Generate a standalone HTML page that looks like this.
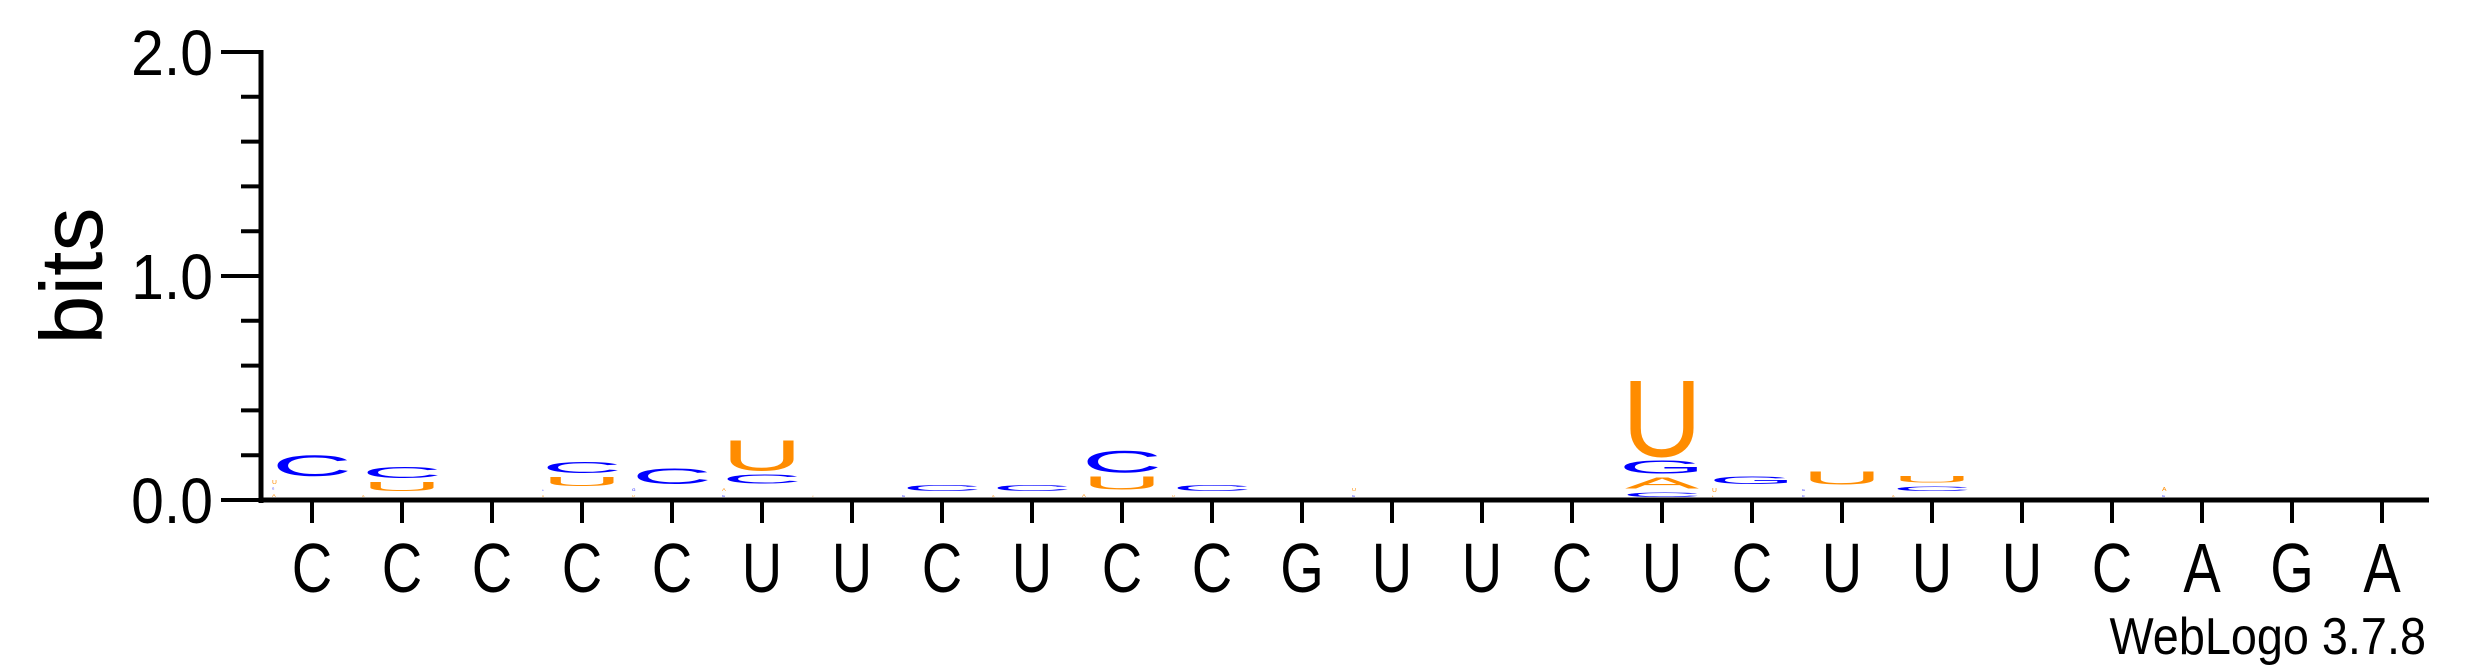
<!DOCTYPE html>
<html><head><meta charset="utf-8"><style>
html,body{margin:0;padding:0;background:#fff;}
svg{display:block;font-family:"Liberation Sans",Arial,sans-serif;}
</style></head><body>
<svg id="logo" width="2475" height="667" viewBox="0 0 2475 667" xmlns="http://www.w3.org/2000/svg">
<g id="axes"></g>
<g id="stacks"></g>
<text transform="translate(102,276) rotate(-90)" text-anchor="middle" font-size="88">bits</text>
<text x="2426" y="654" text-anchor="end" font-size="52" transform="translate(2426,0) scale(0.9,1) translate(-2426,0)">WebLogo 3.7.8</text>
</svg>
<script>
// Data
const positions = ["C","C","C","C","C","U","U","C","U","C","C","G","U","U","C","U","C","U","U","U","C","A","G","A"];
// each stack: letters bottom-to-top with heights in bits
const stackLetters = [
 ["A","G","U","C"],["A","U","C"],[],["A","G","U","C"],["U","G","C"],["G","A","C","U"],["U"],["G","C"],["A","C"],["A","U","C"],["U","C"],[],
 ["G","U"],[],[],["C","A","G","U"],["A","U","G"],["C","G","U"],["A","C","U"],[],[],["G","A"],[],[]
];
const stackHeights = [
 [0.015,0.008,0.018,0.094],[0.01,0.04,0.05],[],[0.008,0.005,0.04,0.05],[0.01,0.012,0.07],[0.01,0.015,0.04,0.14],[0.005],[0.01,0.025],[0.01,0.025],[0.015,0.058,0.10],[0.01,0.025],[],
 [0.01,0.015],[],[],[0.02,0.05,0.058,0.35],[0.005,0.018,0.035],[0.01,0.01,0.058],[0.01,0.02,0.028],[],[],[0.01,0.018],[],[]
];
const yTicks = [0,1,2];
const yTickLabels = ["0.0","1.0","2.0"];
const colors = {A:"#ff8c00",U:"#ff8c00",C:"#0000ff",G:"#0000ff"};

const NS="http://www.w3.org/2000/svg";
const x0=312, dx=90, yBase=500, pxPerBit=224, axisX=261, gap=4;
const xPos = i => x0 + i*dx;
const yPos = b => yBase - b*pxPerBit;
const axes=document.getElementById('axes');
const stacks=document.getElementById('stacks');
function mk(tag,attrs,parent){const e=document.createElementNS(NS,tag);for(const k in attrs)e.setAttribute(k,attrs[k]);parent.appendChild(e);return e;}

let yl=mk('line',{x1:axisX,y1:yPos(2)-2,x2:axisX,y2:yBase+3,stroke:'#000','stroke-width':5},axes);


let xl=mk('line',{x1:axisX-2,y1:yBase,x2:xPos(positions.length-1)+47,y2:yBase,stroke:'#000','stroke-width':5},axes);


for(let k=0;k<=10;k++){
  const b=k*0.2;
  const major=(k%5===0);
  const t=mk('line',{x1:major?221:241,y1:yPos(b),x2:axisX,y2:yPos(b),stroke:'#000','stroke-width':4},axes);
  
  
}
yTicks.forEach((v,i)=>{
  const t=mk('text',{x:213,y:yPos(v)+23,'text-anchor':'end','font-size':64},axes);
  t.setAttribute('transform',`translate(213,0) scale(0.92,1) translate(-213,0)`);
  t.textContent=yTickLabels[i];
  
  
});
positions.forEach((p,i)=>{
  const x=xPos(i);
  const t=mk('line',{x1:x,y1:yBase,x2:x,y2:523,stroke:'#000','stroke-width':4},axes);
  
  
  const l=mk('text',{x:0,y:0,'text-anchor':'middle','font-size':70,transform:`translate(${x},592) scale(0.8,1)`},axes);
  l.textContent=p;
  
  
});
stackLetters.forEach((letters,i)=>{
  let y=yBase-3;
  const cx=xPos(i);
  letters.forEach((ch,j)=>{
    const hp=stackHeights[i][j]*pxPerBit;
    const sy=hp/71.6;
    const small = stackHeights[i][j] < 0.02;
    const sx = small ? sy*1.2 : 80/72;
    const tx = small ? cx-40 : cx;
    const t=mk('text',{x:0,y:0,'text-anchor':small?'start':'middle','font-size':100,fill:colors[ch],transform:`translate(${tx},${y}) scale(${sx},${sy})`},stacks);
    t.textContent=ch;
    
    
    y-=hp+gap;
  });
});
</script>
</body></html>
